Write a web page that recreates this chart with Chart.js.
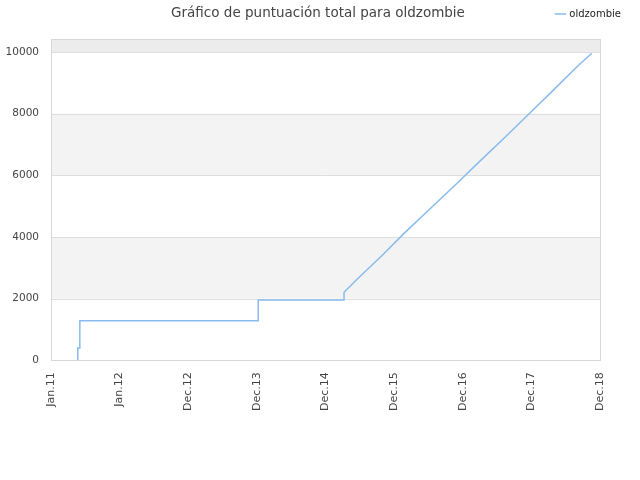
<!DOCTYPE html>
<html>
<head>
<meta charset="utf-8">
<script src="https://cdn.jsdelivr.net/npm/chart.js@4/dist/chart.umd.min.js"></script>
<style>
  html, body { margin: 0; padding: 0; background: #fff; }
  #wrap { width: 640px; height: 480px; }
</style>
</head>
<body>
<div id="wrap"><canvas id="chart" width="640" height="480"></canvas></div>
<script>
// x tick labels (evenly spaced on the axis)
const xLabels = ['Jan.11', 'Jan.12', 'Dec.12', 'Dec.13', 'Dec.14', 'Dec.15', 'Dec.16', 'Dec.17', 'Dec.18'];
// y tick values
const yTicks = [0, 2000, 4000, 6000, 8000, 10000];
// position of each point along the axis, in tick units
const pointPos = [0.38, 0.39, 0.39, 0.42, 0.42, 3.02, 3.02, 4.27, 4.27, 4.46, 4.82, 5.16, 5.52, 5.91, 6.25, 6.62, 6.96, 7.32, 7.68, 7.88];
// total score
const scores = [0, 0, 400, 400, 1280, 1280, 1955, 1955, 2205, 2628, 3387, 4146, 4908, 5723, 6459, 7240, 7980, 8761, 9553, 9957];
const seriesName = 'oldzombie';
const titleText = 'Gráfico de puntuación total para oldzombie';

const FONT = "'DejaVu Sans', sans-serif";

// alternating horizontal bands + frame around the plot
const bandsPlugin = {
    id: 'bands',
    beforeDatasetsDraw(chart) {
        const { ctx, chartArea: a, scales: { y } } = chart;
        ctx.save();
        const edges = yTicks.concat([y.max]);
        for (let i = 1; i < edges.length - 1; i += 2) {
            const top = y.getPixelForValue(edges[i + 1]);
            const bot = y.getPixelForValue(edges[i]);
            ctx.fillStyle = i === edges.length - 2 ? '#ececec' : '#f3f3f3';
            ctx.fillRect(a.left, top, a.right - a.left, bot - top);
        }
        // grid lines on top of the bands
        ctx.strokeStyle = '#dedede';
        ctx.lineWidth = 1;
        yTicks.slice(1).forEach(v => {
            const py = Math.round(y.getPixelForValue(v)) + 0.5;
            ctx.beginPath();
            ctx.moveTo(a.left, py);
            ctx.lineTo(a.right, py);
            ctx.stroke();
        });
        ctx.strokeStyle = '#d8d8d8';
        ctx.strokeRect(Math.round(a.left) + 0.5, Math.round(a.top) + 0.5,
                       Math.round(a.right - a.left), Math.round(a.bottom - a.top));
        ctx.restore();
    }
};

// title drawn on the same row as the legend; legend row made taller
const titlePlugin = {
    id: 'sameRowTitle',
    beforeInit(chart) {
        const fit = chart.legend.fit;
        chart.legend.fit = function () {
            fit.call(this);
            this.height += 10;
        };
    },
    afterDraw(chart) {
        const ctx = chart.ctx;
        ctx.save();
        ctx.font = '13.5px ' + FONT;
        ctx.fillStyle = '#444';
        ctx.textAlign = 'center';
        ctx.textBaseline = 'middle';
        ctx.fillText(titleText, 318, 13);
        ctx.restore();
    }
};

new Chart(document.getElementById('chart').getContext('2d'), {
    type: 'line',
    data: {
        datasets: [{
            label: seriesName,
            data: pointPos.map((p, i) => ({ x: p, y: scores[i] })),
            borderColor: '#88bbee',
            backgroundColor: '#88bbee',
            borderWidth: 1.5,
            pointRadius: 0,
            tension: 0,
            fill: false
        }]
    },
    options: {
        responsive: false,
        animation: false,
        events: [],
        layout: { padding: { left: 0, right: 10, top: 0, bottom: 57 } },
        plugins: {
            title: { display: false },
            tooltip: { enabled: false },
            legend: {
                position: 'top',
                align: 'end',
                labels: {
                    usePointStyle: true,
                    pointStyle: 'line',
                    boxWidth: 8,
                    boxHeight: 8,
                    color: '#222',
                    font: { family: FONT, size: 10 },
                    padding: 9
                }
            }
        },
        scales: {
            x: {
                type: 'linear',
                min: 0,
                max: xLabels.length - 1,
                grid: { display: false, drawTicks: false },
                border: { display: false },
                afterBuildTicks(axis) {
                    axis.ticks = xLabels.map((_, i) => ({ value: i }));
                },
                ticks: {
                    autoSkip: false,
                    minRotation: 90,
                    maxRotation: 90,
                    padding: 12,
                    color: '#444',
                    font: { family: FONT, size: 11 },
                    callback: (v) => xLabels[v]
                }
            },
            y: {
                min: 0,
                max: 10420,
                grid: { display: false, drawTicks: false },
                border: { display: false },
                afterBuildTicks(axis) {
                    axis.ticks = yTicks.map(v => ({ value: v }));
                },
                afterFit(axis) { axis.width = 51; },
                ticks: {
                    padding: 12,
                    color: '#444',
                    font: { family: FONT, size: 10.5 },
                    callback: (v) => String(v)
                }
            },
            // empty right axis that only reserves space
            yRight: {
                position: 'right',
                display: true,
                grid: { display: false, drawTicks: false },
                border: { display: false },
                ticks: { display: false },
                afterFit(axis) { axis.width = 30; }
            }
        }
    },
    plugins: [bandsPlugin, titlePlugin]
});
</script>
</body>
</html>
